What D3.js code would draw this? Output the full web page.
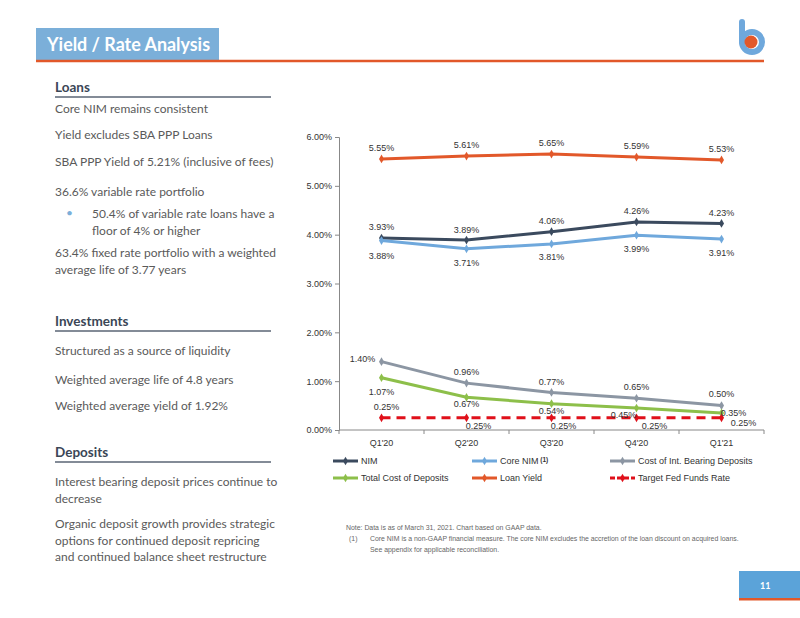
<!DOCTYPE html>
<html><head><meta charset="utf-8">
<script src="https://cdn.jsdelivr.net/npm/d3@7"></script>
<style>
body{margin:0;background:#fff;}
svg{display:block;}
</style></head>
<body>
<svg id="c" width="800" height="618"></svg>
<script>
const categories = ["Q1'20","Q2'20","Q3'20","Q4'20","Q1'21"];
const nim = [3.93,3.89,4.06,4.26,4.23];
const coreNim = [3.88,3.71,3.81,3.99,3.91];
const costIntBearing = [1.40,0.96,0.77,0.65,0.50];
const totalCostDeposits = [1.07,0.67,0.54,0.45,0.35];
const loanYield = [5.55,5.61,5.65,5.59,5.53];
const fedFunds = [0.25,0.25,0.25,0.25,0.25];
const yTicks = [0,1,2,3,4,5,6];

const seriesNames = ["NIM","Core NIM","Cost of Int. Bearing Deposits","Total Cost of Deposits","Loan Yield","Target Fed Funds Rate"];

const svg = d3.select("#c");

// Title
svg.append("rect").attr("x",36).attr("y",28).attr("width",183).attr("height",32).attr("fill","#7BAFD9");
svg.append("line").attr("x1",36).attr("x2",764).attr("y1",61).attr("y2",61).attr("stroke","#E2582A").attr("stroke-width",2.5);
svg.append("text").attr("x",47).attr("y",51).text("Yield / Rate Analysis")
  .attr("fill","#fff").attr("font-family","Lato").attr("font-weight","bold").attr("font-size",19)
  .attr("textLength",163).attr("lengthAdjust","spacingAndGlyphs");

// Logo
svg.append("line").attr("x1",742).attr("x2",742).attr("y1",22).attr("y2",42).attr("stroke","#6FA8DC").attr("stroke-width",6).attr("stroke-linecap","round");
svg.append("circle").attr("cx",752).attr("cy",42).attr("r",10).attr("fill","none").attr("stroke","#6FA8DC").attr("stroke-width",6);
svg.append("circle").attr("cx",751).attr("cy",42).attr("r",6.5).attr("fill","#E2582A");

// Left text
const tf = "Lato";
const textColor = "#5a5a5a";
function head(t,y){
  svg.append("text").attr("x",55).attr("y",y).text(t).attr("font-family",tf).attr("font-weight","bold").attr("font-size",13.5).attr("fill","#3a4656");
  svg.append("line").attr("x1",55).attr("x2",271).attr("y1",y+5).attr("y2",y+5).attr("stroke","#5a6575").attr("stroke-width",1.5);
}
function line(t,y,x){
  svg.append("text").attr("x",x||55).attr("y",y).text(t).attr("font-family",tf).attr("font-size",12).attr("fill",textColor);
}
head("Loans",92);
line("Core NIM remains consistent",113);
line("Yield excludes SBA PPP Loans",139);
line("SBA PPP Yield of 5.21% (inclusive of fees)",166);
line("36.6% variable rate portfolio",196);
svg.append("text").attr("x",66).attr("y",217).text("•").attr("font-family",tf).attr("font-size",12).attr("fill","#7BAFD9");
line("50.4% of variable rate loans have a",218,92);
line("floor of 4% or higher",235,92);
line("63.4% fixed rate portfolio with a weighted",257);
line("average life of 3.77 years",274);
head("Investments",326);
line("Structured as a source of liquidity",355);
line("Weighted average life of 4.8 years",384);
line("Weighted average yield of 1.92%",410);
head("Deposits",457);
line("Interest bearing deposit prices continue to",486);
line("decrease",503);
line("Organic deposit growth provides strategic",528);
line("options for continued deposit repricing",545);
line("and continued balance sheet restructure",561);

// Chart
const cf = "Liberation Sans";
const x = d3.scaleBand().domain(categories).range([339,764]).padding(0);
const y = d3.scaleLinear().domain([0,6]).range([430,137]);
const g = svg.append("g");

const yAxis = d3.axisLeft(y).tickValues(yTicks).tickFormat(d=>d.toFixed(2)+"%").tickSize(4).tickPadding(3);
const ya = g.append("g").attr("transform","translate(339,0)").call(yAxis);
ya.selectAll("path,line").attr("stroke","#888");
ya.selectAll("text").attr("font-family",cf).attr("font-size",9).attr("fill","#333");

const xAxis = d3.axisBottom(x).tickSize(0).tickPadding(8);
const xa = g.append("g").attr("transform","translate(0,430)").call(xAxis);
xa.select(".domain").attr("stroke","#888").attr("d","M339,0H764");
xa.selectAll("text").attr("font-family",cf).attr("font-size",9).attr("fill","#333").attr("dy","0.9em");
const bounds = categories.map(c=>x(c)).concat([x(categories[4])+x.bandwidth()]);
g.selectAll(".bt").data(bounds).join("line").attr("x1",d=>d).attr("x2",d=>d).attr("y1",430).attr("y2",434).attr("stroke","#888");

const cx = c=>x(c)+x.bandwidth()/2;
const series = [
  {name:seriesNames[0],vals:nim,color:"#3B4A5E",dash:null},
  {name:seriesNames[1],vals:coreNim,color:"#6FA8DC",dash:null},
  {name:seriesNames[2],vals:costIntBearing,color:"#8C96A3",dash:null},
  {name:seriesNames[3],vals:totalCostDeposits,color:"#8DBF4A",dash:null},
  {name:seriesNames[4],vals:loanYield,color:"#E2582A",dash:null},
  {name:seriesNames[5],vals:fedFunds,color:"#E0101A",dash:"9,6"}
];
const diamond = d3.symbol().type(d3.symbolDiamond).size(22);
series.forEach(s=>{
  const pts = s.vals.map((v,i)=>[cx(categories[i]),y(v)]);
  g.append("path").attr("d",d3.line()(pts)).attr("fill","none").attr("stroke",s.color).attr("stroke-width",3).attr("stroke-dasharray",s.dash);
  g.selectAll(null).data(pts).join("path").attr("d",diamond).attr("transform",d=>`translate(${d[0]},${d[1]})`).attr("fill",s.color);
});

// data label offsets [dx, dy] of label centre relative to point
const labelOffsets = {
  0:[[0,-11],[0,-10],[0,-11],[0,-11],[0,-11]],
  1:[[0,15],[0,14],[0,13],[0,14],[0,14]],
  2:[[-19,-3],[0,-11],[0,-11],[0,-11],[0,-12]],
  3:[[0,14],[0,7],[0,7],[-13,7],[12,0]],
  4:[[0,-11],[0,-11],[0,-11],[0,-11],[0,-11]],
  5:[[5,-11],[12,8],[12,8],[18,8],[22,5]]
};
series.forEach((s,si)=>{
  s.vals.forEach((v,i)=>{
    const o = labelOffsets[si][i];
    g.append("text").attr("x",cx(categories[i])+o[0]).attr("y",y(v)+o[1]).attr("dy","0.35em")
      .attr("text-anchor","middle").text(v.toFixed(2)+"%")
      .attr("font-family",cf).attr("font-size",9).attr("fill","#333");
  });
});

// Legend
const legX = [333,472,610];
const legY = [461,478];
series.forEach((s,i)=>{
  const lx = legX[i%3], ly = legY[Math.floor(i/3)];
  g.append("line").attr("x1",lx).attr("x2",lx+25).attr("y1",ly).attr("y2",ly).attr("stroke",s.color).attr("stroke-width",3).attr("stroke-dasharray",s.dash?"5,2":null);
  g.append("path").attr("d",diamond).attr("transform",`translate(${lx+12.5},${ly})`).attr("fill",s.color);
  const t = g.append("text").attr("x",lx+28).attr("y",ly).attr("dy","0.35em").attr("font-family",cf).attr("font-size",9).attr("fill","#333").text(s.name);
  if(i===1){ t.append("tspan").attr("dy","-0.4em").attr("font-size",6.5).attr("font-weight","bold").text(" (1)"); }
});

// Notes
const nf = "Liberation Sans";
const ns = 6.9;
svg.append("text").attr("x",346).attr("y",530).text("Note: Data is as of March 31, 2021.  Chart based on GAAP data.").attr("font-family",nf).attr("font-size",ns).attr("fill","#666");
svg.append("text").attr("x",349).attr("y",541).text("(1)").attr("font-family",nf).attr("font-size",ns).attr("fill","#666");
svg.append("text").attr("x",370).attr("y",541).text("Core NIM is a non-GAAP financial  measure. The core NIM excludes the accretion of the loan discount on  acquired loans.").attr("font-family",nf).attr("font-size",ns).attr("fill","#666");
svg.append("text").attr("x",370).attr("y",552).text("See appendix for applicable reconciliation.").attr("font-family",nf).attr("font-size",ns).attr("fill","#666");

// Page number
svg.append("rect").attr("x",739).attr("y",571).attr("width",61).attr("height",27).attr("fill","#5BA3D9");
svg.append("rect").attr("x",739).attr("y",598).attr("width",61).attr("height",2.5).attr("fill","#E2582A");
svg.append("text").attr("x",760).attr("y",589).text("11").attr("fill","#fff").attr("font-family",tf).attr("font-weight","bold").attr("font-size",9);
</script>
</body></html>
